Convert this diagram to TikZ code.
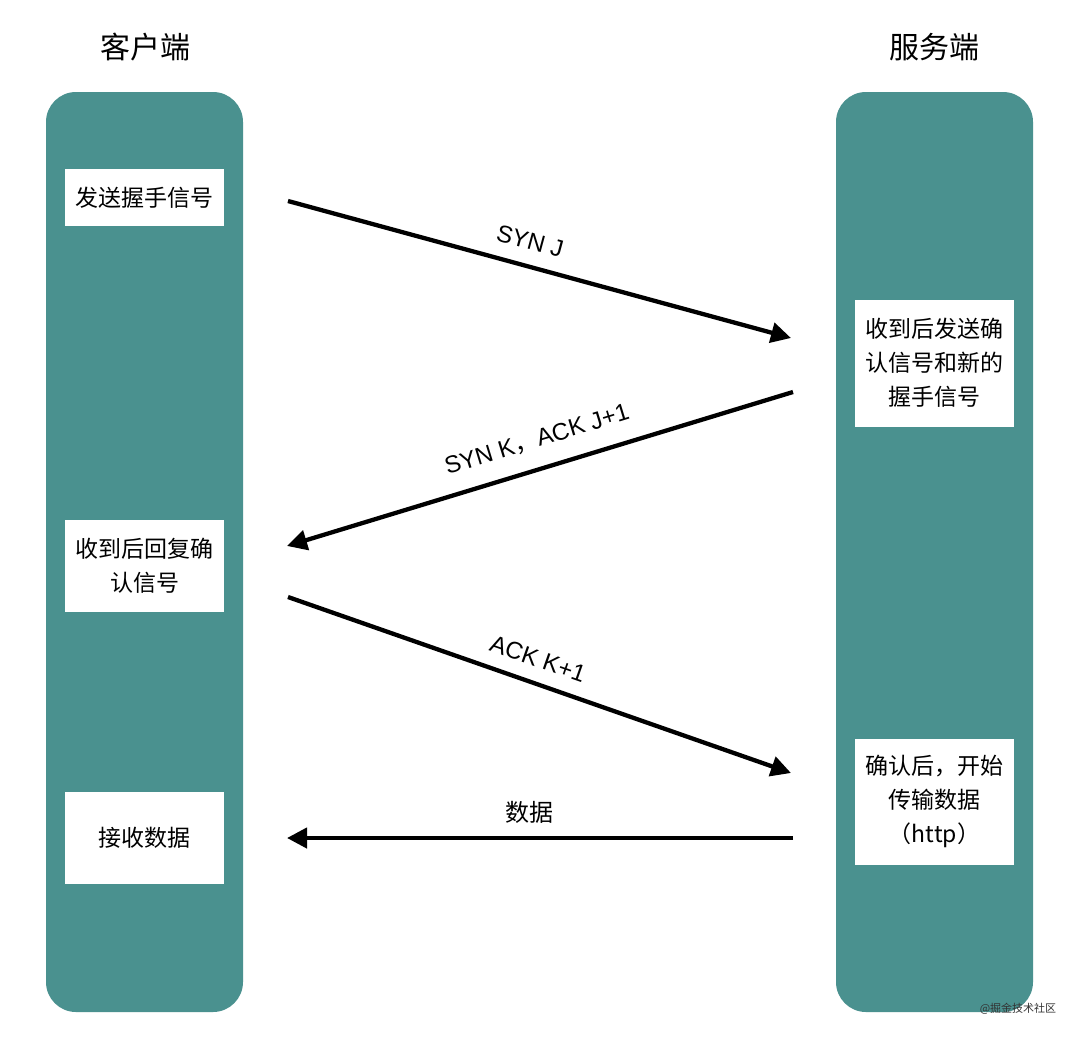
\documentclass[tikz,border=0pt]{standalone}
\usepackage{fontspec}
\setmainfont{Liberation Sans}
\newfontfamily\cjk{Noto Sans CJK SC}
\usetikzlibrary{arrows.meta}
\definecolor{teal1}{HTML}{4A918F}
\tikzset{
  column/.style={fill=teal1, draw=none, rounded corners=30pt},
  msgbox/.style={fill=white, draw=none, font=\cjk\fontsize{23}{34}\selectfont, align=center, inner sep=0pt},
  title/.style={font=\cjk\fontsize{30}{36}\selectfont, inner sep=0pt},
  msg/.style={line width=4.3pt, -{Triangle[length=20pt,width=20pt]}},
  lbl/.style={font=\fontsize{24}{28}\selectfont, inner sep=0pt},
}
\begin{document}
\begin{tikzpicture}[x=1pt,y=-1pt]
\useasboundingbox (0,0) rectangle (1078,1036);
\fill[white] (0,0) rectangle (1078,1036);
% titles
\node[title] (tc) at (145,47) {客户端};
\node[title] (ts) at (934,47) {服务端};
% columns
\path[column] (46,92) rectangle (243,1012);
\path[column] (836,92) rectangle (1033,1012);
% boxes
\node[msgbox, minimum width=159pt, minimum height=57pt] (c1) at (144.5,197.5) {发送握手信号};
\node[msgbox, minimum width=159pt, minimum height=92pt] (c2) at (144.5,566) {收到后回复确\\认信号};
\node[msgbox, minimum width=159pt, minimum height=92pt] (c3) at (144.5,838) {接收数据};
\node[msgbox, minimum width=159pt, minimum height=127pt] (s1) at (934.5,363) {收到后发送确\\认信号和新的\\握手信号};
\node[msgbox, minimum width=159pt, minimum height=126pt] (s2) at (934.5,801.5) {确认后，开始\\传输数据\\（http）};
% arrow end points
\coordinate (a1s) at (288,201);
\coordinate (a1e) at (791,338);
\coordinate (a2s) at (793,392);
\coordinate (a2e) at (287,546);
\coordinate (a3s) at (288,597);
\coordinate (a3e) at (791,773);
\coordinate (a4s) at (793,838);
\coordinate (a4e) at (287,838);
\draw[msg] (a1s) -- (a1e);
\draw[msg] (a2s) -- (a2e);
\draw[msg] (a3s) -- (a3e);
\draw[msg] (a4s) -- (a4e);
% labels
\node[lbl, rotate=-15.2] (l1) at (530,241) {SYN J};
\node[lbl, rotate=17] (l2) at (537,440) {SYN K{\cjk ，}ACK J+1};
\node[lbl, rotate=-19.3] (l3) at (538,659) {ACK K+1};
\node[lbl, font=\cjk\fontsize{24}{28}\selectfont] (l4) at (529,812) {数据};
% watermark
\node[font=\cjk\fontsize{11}{13}\selectfont, text=black!80, inner sep=0pt] (wm) at (1018,1009) {@掘金技术社区};
\end{tikzpicture}
\end{document}
